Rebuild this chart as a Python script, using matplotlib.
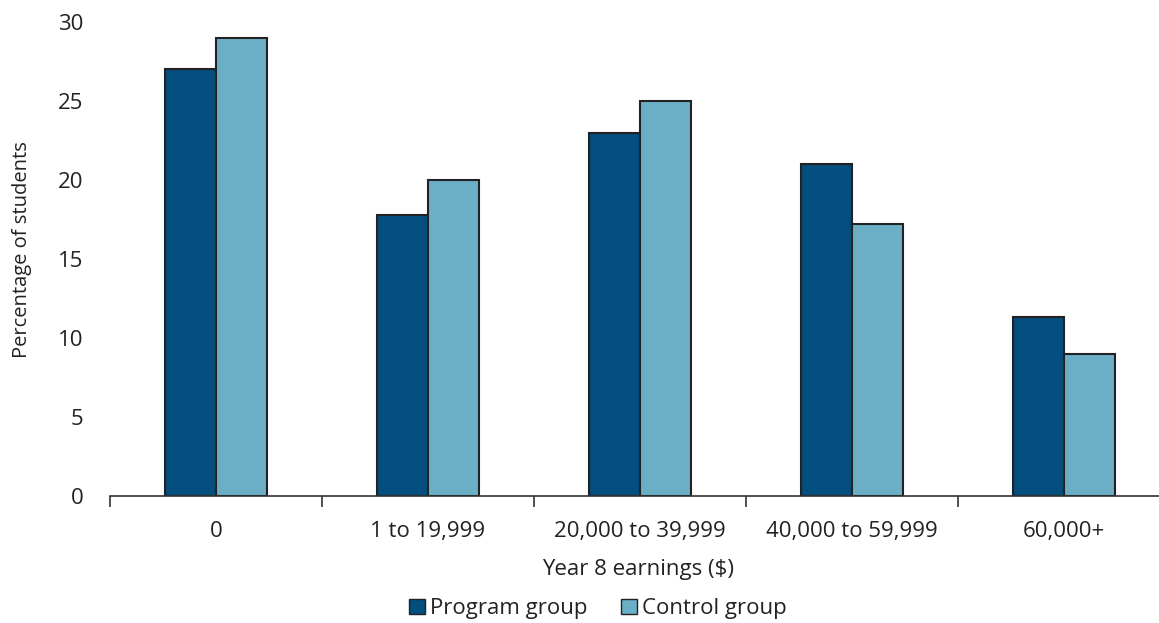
import numpy as np
import matplotlib.pyplot as plt
from matplotlib.patches import Patch

plt.rcParams['font.family'] = ['Open Sans', 'DejaVu Sans']

categories = ['0', '1 to 19,999', '20,000 to 39,999', '40,000 to 59,999', '60,000+']
program = [27.0, 17.8, 23.0, 21.0, 11.3]
control = [29.0, 20.0, 25.0, 17.2, 9.0]

prog_color = '#024E7E'
ctrl_color = '#6AAFC6'
edge = '#222222'
txt = '#222222'
fs = 16

fig = plt.figure(figsize=(11.59, 6.23), dpi=100)
ax = fig.add_axes([0.0949, 0.2039, 0.9146, 0.7608])

x = np.arange(len(categories))
w = 0.24
ax.bar(x - w / 2, program, w, color=prog_color, edgecolor=edge, linewidth=1.5)
ax.bar(x + w / 2, control, w, color=ctrl_color, edgecolor=edge, linewidth=1.5)

ax.set_xlim(-0.5, 4.5)
ax.set_ylim(0, 30)
ax.set_yticks(range(0, 31, 5))
ax.set_xticks(x)
ax.set_xticklabels(categories)
ax.set_xticks(np.arange(-0.5, 4.5, 1), minor=True)

for side in ['top', 'right', 'left']:
    ax.spines[side].set_visible(False)
ax.spines['bottom'].set_color('#333333')
ax.spines['bottom'].set_linewidth(1.2)

ax.tick_params(axis='y', length=0, pad=19, labelsize=fs, colors=txt)
ax.tick_params(axis='x', which='major', length=0, pad=18, labelsize=fs, colors=txt)
ax.tick_params(axis='x', which='minor', length=8, width=1.2, color='#333333')

ax.set_xlabel('Year 8 earnings ($)', fontsize=fs, color=txt)
ax.set_ylabel('Percentage of students', fontsize=14.5, color=txt)
ax.xaxis.set_label_coords(0.498, -0.133)
ax.yaxis.set_label_coords(-0.074, 0.519)

handles = [Patch(facecolor=prog_color, edgecolor=edge, label='Program group'),
           Patch(facecolor=ctrl_color, edgecolor=edge, label='Control group')]
fig.legend(handles=handles, loc='lower center', bbox_to_anchor=(0.516, -0.026), ncol=2,
           frameon=False, fontsize=fs, handlelength=0.72, handleheight=0.72,
           handletextpad=0.22, columnspacing=1.5, labelcolor=txt)

fig.savefig('out.png', dpi=100)
